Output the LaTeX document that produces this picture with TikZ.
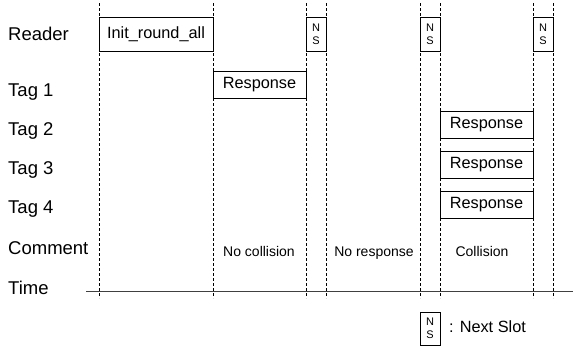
\documentclass[tikz,border=0pt]{standalone}
\usepackage{fontspec}
\setmainfont{Liberation Sans}
\begin{document}
\begin{tikzpicture}[x=1pt,y=-1pt,
  lbl/.style={font=\fontsize{18.5}{22}\selectfont, anchor=base west, inner sep=0pt},
  cmt/.style={font=\fontsize{14}{16}\selectfont, anchor=base, inner sep=0pt},
  slotbox/.style={draw, line width=0.8pt, inner sep=0pt, font=\fontsize{16.3}{19}\selectfont},
  nsbox/.style={draw, line width=0.8pt, inner sep=0pt, minimum width=20pt, minimum height=34pt, align=center, font=\fontsize{11}{13}\selectfont},
  guide/.style={line width=0.8pt, dash pattern=on 3pt off 2pt}]
\useasboundingbox (0,0) rectangle (573,346);
% labels
\node[lbl] (reader) at (8,40) {Reader};
\node[lbl] (tag1) at (8,96) {Tag 1};
\node[lbl] (tag2) at (8,135) {Tag 2};
\node[lbl] (tag3) at (8,174) {Tag 3};
\node[lbl] (tag4) at (8,213) {Tag 4};
\node[lbl] (comment) at (8,254) {Comment};
\node[lbl] (time) at (8,294) {Time};
% dashed guides
\foreach \n/\x in {a/99,b/213,c/306,d/326,e/420,f/440,g/533,h/553}{
  \coordinate (\n t) at (\x,3);
  \coordinate (\n b) at (\x,298);
  \draw[guide] (\n t) -- (\n b);
}
% time axis
\coordinate (ts) at (86,291);
\coordinate (te) at (573,291);
\draw[line width=0.8pt, black!75] (ts) -- (te);
% boxes
\node[slotbox, minimum width=114pt, minimum height=34pt] (init) at (156,34) {Init\_round\_all};
\node[nsbox] (ns1) at (316,34) {N\\S};
\node[nsbox] (ns2) at (430,34) {N\\S};
\node[nsbox] (ns3) at (543,34) {N\\S};
\node[slotbox, minimum width=93pt, minimum height=27pt] (r1) at (259.5,84.5) {Response};
\node[slotbox, minimum width=93pt, minimum height=27pt] (r2) at (486.5,124.5) {Response};
\node[slotbox, minimum width=93pt, minimum height=27pt] (r3) at (486.5,164.5) {Response};
\node[slotbox, minimum width=93pt, minimum height=27pt] (r4) at (486.5,204.5) {Response};
% comments
\node[cmt] (c1) at (259,256) {No collision};
\node[cmt] (c2) at (374,256) {No response};
\node[cmt] (c3) at (482,256) {Collision};
% legend
\node[nsbox, minimum height=33pt] (nsl) at (430,328.5) {N\\S};
\node[font=\fontsize{16.3}{19}\selectfont, anchor=base west, inner sep=0pt] (legend) at (449,332) {: Next Slot};
\end{tikzpicture}
\end{document}
